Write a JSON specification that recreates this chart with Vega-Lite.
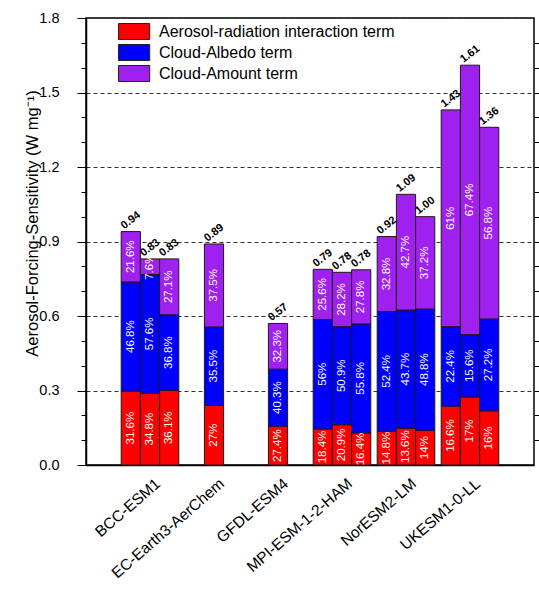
{
  "$schema": "https://vega.github.io/schema/vega-lite/v6.json",
  "width": 448,
  "height": 447,
  "autosize": {"type": "none"},
  "padding": {"left": 86, "top": 18, "right": 5, "bottom": 125},
  "config": {
    "font": "Liberation Sans",
    "view": {"stroke": "black", "strokeWidth": 1.5},
    "axis": {"domainColor": "black", "tickColor": "black", "labelColor": "black", "titleColor": "black", "labelFont": "Liberation Sans", "titleFont": "Liberation Sans", "titleFontWeight": "normal"}
  },
  "datasets": {
    "seg": [
      {"model": "BCC-ESM1", "member": "1", "term": "Aerosol-radiation interaction term", "k": 1, "value": 0.297, "pct": "31.6%"},
      {"model": "BCC-ESM1", "member": "1", "term": "Cloud-Albedo term", "k": 2, "value": 0.440, "pct": "46.8%"},
      {"model": "BCC-ESM1", "member": "1", "term": "Cloud-Amount term", "k": 3, "value": 0.203, "pct": "21.6%"},
      {"model": "BCC-ESM1", "member": "2", "term": "Aerosol-radiation interaction term", "k": 1, "value": 0.289, "pct": "34.8%"},
      {"model": "BCC-ESM1", "member": "2", "term": "Cloud-Albedo term", "k": 2, "value": 0.478, "pct": "57.6%"},
      {"model": "BCC-ESM1", "member": "2", "term": "Cloud-Amount term", "k": 3, "value": 0.063, "pct": "7.6%"},
      {"model": "BCC-ESM1", "member": "3", "term": "Aerosol-radiation interaction term", "k": 1, "value": 0.300, "pct": "36.1%"},
      {"model": "BCC-ESM1", "member": "3", "term": "Cloud-Albedo term", "k": 2, "value": 0.305, "pct": "36.8%"},
      {"model": "BCC-ESM1", "member": "3", "term": "Cloud-Amount term", "k": 3, "value": 0.225, "pct": "27.1%"},
      {"model": "EC-Earth3-AerChem", "member": "2", "term": "Aerosol-radiation interaction term", "k": 1, "value": 0.240, "pct": "27%"},
      {"model": "EC-Earth3-AerChem", "member": "2", "term": "Cloud-Albedo term", "k": 2, "value": 0.316, "pct": "35.5%"},
      {"model": "EC-Earth3-AerChem", "member": "2", "term": "Cloud-Amount term", "k": 3, "value": 0.334, "pct": "37.5%"},
      {"model": "GFDL-ESM4", "member": "2", "term": "Aerosol-radiation interaction term", "k": 1, "value": 0.156, "pct": "27.4%"},
      {"model": "GFDL-ESM4", "member": "2", "term": "Cloud-Albedo term", "k": 2, "value": 0.230, "pct": "40.3%"},
      {"model": "GFDL-ESM4", "member": "2", "term": "Cloud-Amount term", "k": 3, "value": 0.184, "pct": "32.3%"},
      {"model": "MPI-ESM-1-2-HAM", "member": "1", "term": "Aerosol-radiation interaction term", "k": 1, "value": 0.145, "pct": "18.4%"},
      {"model": "MPI-ESM-1-2-HAM", "member": "1", "term": "Cloud-Albedo term", "k": 2, "value": 0.441, "pct": "56%"},
      {"model": "MPI-ESM-1-2-HAM", "member": "1", "term": "Cloud-Amount term", "k": 3, "value": 0.202, "pct": "25.6%"},
      {"model": "MPI-ESM-1-2-HAM", "member": "2", "term": "Aerosol-radiation interaction term", "k": 1, "value": 0.162, "pct": "20.9%"},
      {"model": "MPI-ESM-1-2-HAM", "member": "2", "term": "Cloud-Albedo term", "k": 2, "value": 0.395, "pct": "50.9%"},
      {"model": "MPI-ESM-1-2-HAM", "member": "2", "term": "Cloud-Amount term", "k": 3, "value": 0.219, "pct": "28.2%"},
      {"model": "MPI-ESM-1-2-HAM", "member": "3", "term": "Aerosol-radiation interaction term", "k": 1, "value": 0.129, "pct": "16.4%"},
      {"model": "MPI-ESM-1-2-HAM", "member": "3", "term": "Cloud-Albedo term", "k": 2, "value": 0.439, "pct": "55.8%"},
      {"model": "MPI-ESM-1-2-HAM", "member": "3", "term": "Cloud-Amount term", "k": 3, "value": 0.218, "pct": "27.8%"},
      {"model": "NorESM2-LM", "member": "1", "term": "Aerosol-radiation interaction term", "k": 1, "value": 0.136, "pct": "14.8%"},
      {"model": "NorESM2-LM", "member": "1", "term": "Cloud-Albedo term", "k": 2, "value": 0.482, "pct": "52.4%"},
      {"model": "NorESM2-LM", "member": "1", "term": "Cloud-Amount term", "k": 3, "value": 0.302, "pct": "32.8%"},
      {"model": "NorESM2-LM", "member": "2", "term": "Aerosol-radiation interaction term", "k": 1, "value": 0.148, "pct": "13.6%"},
      {"model": "NorESM2-LM", "member": "2", "term": "Cloud-Albedo term", "k": 2, "value": 0.476, "pct": "43.7%"},
      {"model": "NorESM2-LM", "member": "2", "term": "Cloud-Amount term", "k": 3, "value": 0.466, "pct": "42.7%"},
      {"model": "NorESM2-LM", "member": "3", "term": "Aerosol-radiation interaction term", "k": 1, "value": 0.140, "pct": "14%"},
      {"model": "NorESM2-LM", "member": "3", "term": "Cloud-Albedo term", "k": 2, "value": 0.488, "pct": "48.8%"},
      {"model": "NorESM2-LM", "member": "3", "term": "Cloud-Amount term", "k": 3, "value": 0.372, "pct": "37.2%"},
      {"model": "UKESM1-0-LL", "member": "1", "term": "Aerosol-radiation interaction term", "k": 1, "value": 0.237, "pct": "16.6%"},
      {"model": "UKESM1-0-LL", "member": "1", "term": "Cloud-Albedo term", "k": 2, "value": 0.320, "pct": "22.4%"},
      {"model": "UKESM1-0-LL", "member": "1", "term": "Cloud-Amount term", "k": 3, "value": 0.873, "pct": "61%"},
      {"model": "UKESM1-0-LL", "member": "2", "term": "Aerosol-radiation interaction term", "k": 1, "value": 0.274, "pct": "17%"},
      {"model": "UKESM1-0-LL", "member": "2", "term": "Cloud-Albedo term", "k": 2, "value": 0.251, "pct": "15.6%"},
      {"model": "UKESM1-0-LL", "member": "2", "term": "Cloud-Amount term", "k": 3, "value": 1.085, "pct": "67.4%"},
      {"model": "UKESM1-0-LL", "member": "3", "term": "Aerosol-radiation interaction term", "k": 1, "value": 0.218, "pct": "16%"},
      {"model": "UKESM1-0-LL", "member": "3", "term": "Cloud-Albedo term", "k": 2, "value": 0.370, "pct": "27.2%"},
      {"model": "UKESM1-0-LL", "member": "3", "term": "Cloud-Amount term", "k": 3, "value": 0.772, "pct": "56.8%"}
    ],
    "tot": [
      {"model": "BCC-ESM1", "member": "1", "total": 0.94, "label": "0.94"},
      {"model": "BCC-ESM1", "member": "2", "total": 0.83, "label": "0.83"},
      {"model": "BCC-ESM1", "member": "3", "total": 0.83, "label": "0.83"},
      {"model": "EC-Earth3-AerChem", "member": "2", "total": 0.89, "label": "0.89"},
      {"model": "GFDL-ESM4", "member": "2", "total": 0.57, "label": "0.57"},
      {"model": "MPI-ESM-1-2-HAM", "member": "1", "total": 0.788, "label": "0.79"},
      {"model": "MPI-ESM-1-2-HAM", "member": "2", "total": 0.776, "label": "0.78"},
      {"model": "MPI-ESM-1-2-HAM", "member": "3", "total": 0.786, "label": "0.78"},
      {"model": "NorESM2-LM", "member": "1", "total": 0.92, "label": "0.92"},
      {"model": "NorESM2-LM", "member": "2", "total": 1.09, "label": "1.09"},
      {"model": "NorESM2-LM", "member": "3", "total": 1.00, "label": "1.00"},
      {"model": "UKESM1-0-LL", "member": "1", "total": 1.43, "label": "1.43"},
      {"model": "UKESM1-0-LL", "member": "2", "total": 1.61, "label": "1.61"},
      {"model": "UKESM1-0-LL", "member": "3", "total": 1.36, "label": "1.36"}
    ]
  },
  "layer": [
    {
      "data": {"name": "seg"},
      "mark": {"type": "bar", "stroke": "#1a1a1a", "strokeWidth": 1},
      "encoding": {
        "x": {
          "field": "model", "type": "nominal",
          "sort": ["BCC-ESM1", "EC-Earth3-AerChem", "GFDL-ESM4", "MPI-ESM-1-2-HAM", "NorESM2-LM", "UKESM1-0-LL"],
          "scale": {"paddingInner": 0.1, "paddingOuter": 0.55},
          "axis": {"title": null, "ticks": false, "labelAngle": -41, "labelAlign": "right", "labelBaseline": "middle", "labelFontSize": 15.5, "labelPadding": 16, "labelOffset": 8, "labelOverlap": false, "labelLimit": 0, "domainWidth": 1.5, "domainColor": "black"}
        },
        "xOffset": {"field": "member", "type": "nominal", "scale": {"paddingInner": 0, "paddingOuter": 0}},
        "y": {
          "field": "value", "type": "quantitative", "stack": "zero",
          "scale": {"domain": [0, 1.8], "nice": false},
          "axis": {"orient": "left", "values": [0, 0.3, 0.6, 0.9, 1.2, 1.5, 1.8], "format": ".1f", "labelFontSize": 14.5, "tickSize": 9, "tickWidth": 1, "labelPadding": 18, "grid": true, "gridDash": [4, 3], "gridColor": "#333333", "gridWidth": 1, "domainWidth": 1.5, "title": "Aerosol-Forcing-Sensitivity (W mg⁻¹)", "titleFontSize": 16.5, "titleAngle": -90, "titleX": -49, "titleY": 205, "titleAlign": "center", "titleBaseline": "alphabetic", "zindex": 0}
        },
        "color": {
          "field": "term", "type": "nominal",
          "scale": {"domain": ["Aerosol-radiation interaction term", "Cloud-Albedo term", "Cloud-Amount term"], "range": ["#ff0000", "#0000ff", "#a020f0"]},
          "legend": {"orient": "none", "legendX": 39.6, "legendY": 5, "title": null, "symbolType": "M-1.95,-1H1.95V1H-1.95Z", "symbolSize": 256, "symbolStrokeColor": "#222222", "symbolStrokeWidth": 1, "symbolOpacity": 1, "labelFontSize": 16, "labelLimit": 0, "labelOffset": 16.4, "rowPadding": 0, "padding": 0, "labelFont": "Liberation Sans", "labelColor": "black"}
        },
        "order": {"field": "k", "type": "quantitative"}
      }
    },
    {
      "data": {"name": "seg"},
      "mark": {"type": "text", "angle": 270, "color": "white", "fontSize": 11.5, "align": "center", "baseline": "middle"},
      "encoding": {
        "x": {"field": "model", "type": "nominal", "sort": ["BCC-ESM1", "EC-Earth3-AerChem", "GFDL-ESM4", "MPI-ESM-1-2-HAM", "NorESM2-LM", "UKESM1-0-LL"]},
        "xOffset": {"field": "member", "type": "nominal"},
        "y": {
          "field": "value", "type": "quantitative", "stack": "zero", "bandPosition": 0.5,
          "axis": {"orient": "left", "values": [0.1, 0.2, 0.4, 0.5, 0.7, 0.8, 1.0, 1.1, 1.3, 1.4, 1.6, 1.7], "labels": false, "domain": false, "grid": false, "tickSize": 5, "title": null}
        },
        "detail": {"field": "term", "type": "nominal"},
        "order": {"field": "k", "type": "quantitative"},
        "text": {"field": "pct", "type": "nominal"}
      }
    },
    {
      "data": {"name": "tot"},
      "mark": {"type": "text", "angle": 322, "fontSize": 11, "fontWeight": "bold", "color": "black", "align": "center", "baseline": "middle", "dx": 6.8, "dy": -8.7},
      "encoding": {
        "x": {"field": "model", "type": "nominal", "sort": ["BCC-ESM1", "EC-Earth3-AerChem", "GFDL-ESM4", "MPI-ESM-1-2-HAM", "NorESM2-LM", "UKESM1-0-LL"]},
        "xOffset": {"field": "member", "type": "nominal"},
        "y": {
          "field": "total", "type": "quantitative",
          "axis": {"orient": "right", "values": [0.1, 0.2, 0.3, 0.4, 0.5, 0.6, 0.7, 0.8, 0.9, 1.0, 1.1, 1.2, 1.3, 1.4, 1.5, 1.6, 1.7], "labels": false, "domain": false, "grid": false, "tickSize": 6, "title": null}
        },
        "text": {"field": "label", "type": "nominal"}
      }
    }
  ],
  "resolve": {"axis": {"y": "independent"}}
}
